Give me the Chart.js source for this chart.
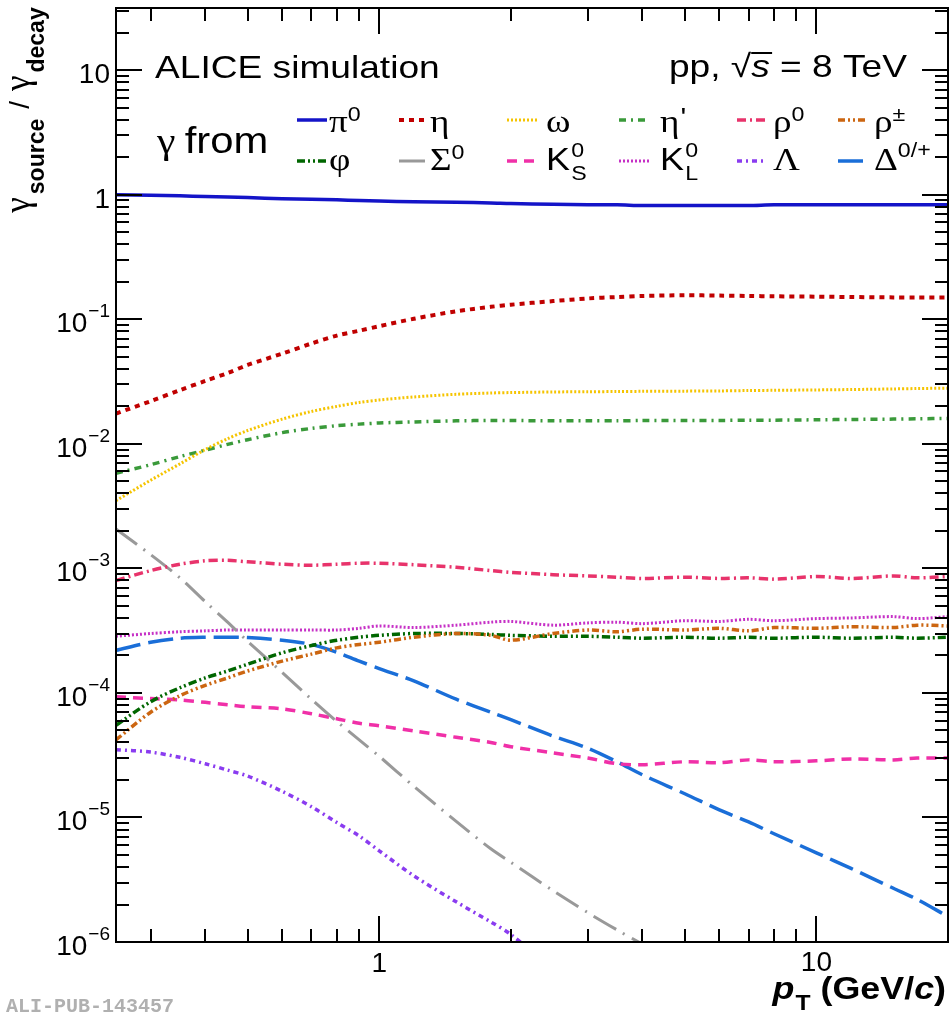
<!DOCTYPE html>
<html>
<head>
<meta charset="utf-8">
<script src="https://cdn.jsdelivr.net/npm/chart.js"></script>
<style>
  html, body { margin: 0; padding: 0; background: #fff; }
  #wrap { width: 952px; height: 1017px; }
</style>
</head>
<body>
<div id="wrap"><canvas id="ratioChart" width="952" height="1017"></canvas></div>
<script>
(function() {
  'use strict';

  // pT bin centres (GeV/c)
  var ptBins = [0.25, 0.3, 0.35, 0.4, 0.45, 0.5, 0.6, 0.7, 0.8, 0.9, 1, 1.2, 1.5, 1.8, 2, 2.5, 3, 3.5, 4, 5, 6, 7, 8, 10, 12, 15, 17, 20];

  // gamma_source / gamma_decay
  var pi0      = [1.00, 0.99, 0.98, 0.97, 0.96, 0.95, 0.93, 0.92, 0.91, 0.90, 0.89, 0.88, 0.87, 0.86, 0.85, 0.84, 0.83, 0.83, 0.82, 0.82, 0.82, 0.82, 0.83, 0.83, 0.83, 0.83, 0.83, 0.83];
  var eta      = [0.0175, 0.022, 0.027, 0.032, 0.037, 0.043, 0.053, 0.064, 0.074, 0.081, 0.088, 0.101, 0.116, 0.126, 0.131, 0.140, 0.147, 0.151, 0.154, 0.156, 0.155, 0.154, 0.153, 0.152, 0.151, 0.150, 0.150, 0.150];
  var omega    = [0.0035, 0.0051, 0.0069, 0.0090, 0.0110, 0.0128, 0.0158, 0.0182, 0.0200, 0.0215, 0.0225, 0.0238, 0.0250, 0.0256, 0.0258, 0.0261, 0.0262, 0.0263, 0.0264, 0.0265, 0.0266, 0.0268, 0.0269, 0.0271, 0.0273, 0.0276, 0.0278, 0.0280];
  var etaPrime = [0.0058, 0.0068, 0.0079, 0.0089, 0.0099, 0.0108, 0.0123, 0.0133, 0.0140, 0.0144, 0.0147, 0.0150, 0.0153, 0.0154, 0.0154, 0.0153, 0.0153, 0.0153, 0.0154, 0.0154, 0.0154, 0.0155, 0.0155, 0.0156, 0.0157, 0.0158, 0.0159, 0.0160];
  var rho0     = [8.0e-4, 9.6e-4, 1.08e-3, 1.15e-3, 1.16e-3, 1.13e-3, 1.08e-3, 1.06e-3, 1.08e-3, 1.10e-3, 1.10e-3, 1.07e-3, 1.02e-3, 9.6e-4, 9.3e-4, 8.9e-4, 8.7e-4, 8.5e-4, 8.3e-4, 8.5e-4, 8.3e-4, 8.4e-4, 8.2e-4, 8.6e-4, 8.3e-4, 8.7e-4, 8.4e-4, 8.6e-4];
  var rhoPM    = [4.2e-5, 7.0e-5, 9.5e-5, 1.15e-4, 1.32e-4, 1.5e-4, 1.8e-4, 2.05e-4, 2.3e-4, 2.45e-4, 2.55e-4, 2.8e-4, 3.0e-4, 2.9e-4, 2.65e-4, 3.0e-4, 3.2e-4, 3.1e-4, 3.25e-4, 3.2e-4, 3.3e-4, 3.15e-4, 3.35e-4, 3.3e-4, 3.4e-4, 3.35e-4, 3.5e-4, 3.45e-4];
  var phi      = [5.5e-5, 8.5e-5, 1.1e-4, 1.32e-4, 1.5e-4, 1.7e-4, 2.1e-4, 2.4e-4, 2.65e-4, 2.8e-4, 2.9e-4, 3.0e-4, 3.0e-4, 2.95e-4, 2.9e-4, 2.85e-4, 2.85e-4, 2.8e-4, 2.75e-4, 2.8e-4, 2.75e-4, 2.8e-4, 2.75e-4, 2.8e-4, 2.75e-4, 2.8e-4, 2.75e-4, 2.8e-4];
  var sigma0   = [2.07e-3, 1.29e-3, 8.4e-4, 5.4e-4, 3.7e-4, 2.6e-4, 1.46e-4, 8.9e-5, 5.9e-5, 4.2e-5, 3.1e-5, 1.78e-5, 9.3e-6, 5.6e-6, 4.36e-6, 2.58e-6, 1.72e-6, 1.25e-6, 9.6e-7, null, null, null, null, null, null, null, null, null];
  var k0s      = [9.3e-5, 9.0e-5, 8.8e-5, 8.4e-5, 8.05e-5, 7.75e-5, 7.45e-5, 6.8e-5, 6.2e-5, 5.7e-5, 5.45e-5, 4.95e-5, 4.4e-5, 4.0e-5, 3.7e-5, 3.3e-5, 3.0e-5, 2.7e-5, 2.65e-5, 2.8e-5, 2.75e-5, 2.9e-5, 2.8e-5, 2.85e-5, 2.95e-5, 2.9e-5, 3.0e-5, 3.0e-5];
  var k0l      = [2.85e-4, 3.0e-4, 3.1e-4, 3.15e-4, 3.2e-4, 3.2e-4, 3.2e-4, 3.2e-4, 3.2e-4, 3.3e-4, 3.45e-4, 3.35e-4, 3.5e-4, 3.7e-4, 3.75e-4, 3.5e-4, 3.65e-4, 3.7e-4, 3.6e-4, 3.8e-4, 3.75e-4, 3.9e-4, 3.8e-4, 3.95e-4, 4.0e-4, 4.1e-4, 3.95e-4, 4.1e-4];
  var lambda   = [3.5e-5, 3.35e-5, 3.04e-5, 2.7e-5, 2.4e-5, 2.15e-5, 1.62e-5, 1.22e-5, 9.1e-6, 7.1e-6, 5.4e-6, 3.4e-6, 2.1e-6, 1.45e-6, 1.15e-6, 6e-7, null, null, null, null, null, null, null, null, null, null, null, null];
  var delta    = [2.2e-4, 2.55e-4, 2.75e-4, 2.8e-4, 2.8e-4, 2.78e-4, 2.65e-4, 2.45e-4, 2.12e-4, 1.8e-4, 1.57e-4, 1.25e-4, 8.9e-5, 7.0e-5, 6.1e-5, 4.5e-5, 3.6e-5, 2.8e-5, 2.2e-5, 1.55e-5, 1.15e-5, 9.2e-6, 7.4e-6, 5.2e-6, 3.9e-6, 2.7e-6, 2.2e-6, 1.6e-6];

  var xRange = [0.25, 20];
  var yRange = [1e-6, 31.6];

  var SANS = '"Liberation Sans", Arial, sans-serif';
  var SERIF = '"Liberation Serif", "Times New Roman", serif';
  function f(size, fam, style) { return (style ? style + ' ' : '') + size + 'px ' + fam; }

  var G = f(32, SERIF);
  var SUP = f(20, SANS);

  // one entry per curve: data, style, legend label pieces (legend order)
  var series = [
    { data: pi0,      color: '#1414c8', width: 3.5, dash: [],                   label: [{ t: 'π', f: G }, { t: '0', f: SUP, dy: -11 }] },
    { data: eta,      color: '#c00000', width: 4,   dash: [5, 5],               label: [{ t: 'η', f: G }] },
    { data: omega,    color: '#f5c400', width: 3,   dash: [2, 2],               label: [{ t: 'ω', f: G }] },
    { data: etaPrime, color: '#3a9a3a', width: 3.5, dash: [7, 5, 2, 5],         label: [{ t: 'η', f: G }, { t: '\'', f: f(26, SANS), dy: -6, dx: 1 }] },
    { data: rho0,     color: '#e8336b', width: 3.5, dash: [9, 4, 2, 4],         label: [{ t: 'ρ', f: G }, { t: '0', f: SUP, dy: -11 }] },
    { data: rhoPM,    color: '#cc6611', width: 3.5, dash: [7, 3, 2, 3, 2, 3],   label: [{ t: 'ρ', f: G }, { t: '±', f: SUP, dy: -11 }] },
    { data: phi,      color: '#006600', width: 3.5, dash: [8, 3, 2, 3, 2, 3],   label: [{ t: 'φ', f: G }] },
    { data: sigma0,   color: '#999999', width: 3,   dash: [26, 8, 2, 8],        label: [{ t: 'Σ', f: G }, { t: '0', f: SUP, dy: -11 }] },
    { data: k0s,      color: '#f030a8', width: 3.5, dash: [10, 7],              label: [{ t: 'K', f: f(31, SANS) }, { t: '0', f: SUP, dy: -13, dx: 1, hold: true }, { t: 'S', f: SUP, dy: 10, dx: 1 }] },
    { data: k0l,      color: '#c630c6', width: 3,   dash: [2, 2],               label: [{ t: 'K', f: f(31, SANS) }, { t: '0', f: SUP, dy: -13, dx: 1, hold: true }, { t: 'L', f: SUP, dy: 10, dx: 1 }] },
    { data: lambda,   color: '#8a3cf0', width: 3.5, dash: [5, 4, 2, 4],         label: [{ t: 'Λ', f: G }] },
    { data: delta,    color: '#1a6ed8', width: 3.5, dash: [25, 8],              label: [{ t: 'Δ', f: G }, { t: '0/+', f: SUP, dy: -13 }] }
  ];

  var legendLineX = [297, 399, 507, 619, 737, 838];
  var legendTextX = [329, 430, 546, 660, 773, 874];
  var legendLineY = [120, 161];
  var legendBaseY = [132, 170];

  function points(values) {
    var out = [];
    for (var i = 0; i < ptBins.length; i++) {
      if (values[i] !== null) out.push({ x: ptBins[i], y: values[i] });
    }
    return out;
  }

  // draw a row of text pieces (sub/superscripts) starting/ending at x
  function drawParts(ctx, x, y, parts, align, sx) {
    sx = sx || 1;
    var cur = 0, w = 0;
    parts.forEach(function(p) {
      ctx.font = p.f;
      var pw = ctx.measureText(p.t).width;
      p.px = cur + (p.dx || 0);
      p.pw = pw;
      if (p.px + pw > w) w = p.px + pw;
      if (!p.hold) cur = p.px + pw;
    });
    var x0 = x;
    if (align === 'right') x0 = x - w * sx;
    if (align === 'center') x0 = x - w * sx / 2;
    ctx.save();
    ctx.translate(x0, y);
    ctx.scale(sx, 1);
    ctx.textAlign = 'left';
    ctx.textBaseline = 'alphabetic';
    parts.forEach(function(p) {
      ctx.font = p.f;
      ctx.fillText(p.t, p.px, p.dy || 0);
      if (p.over) ctx.fillRect(p.px, -p.over, p.pw + 2, 2);
    });
    ctx.restore();
  }

  var rootStyle = {
    id: 'rootStyle',
    afterDraw: function(chart) {
      var ctx = chart.ctx;
      var a = chart.chartArea;
      var xs = chart.scales.x;
      var ys = chart.scales.y;
      var e, k, v, p, len;

      ctx.save();
      ctx.strokeStyle = '#000';
      ctx.fillStyle = '#000';
      ctx.lineWidth = 2;

      // inward ticks on all four sides
      ctx.beginPath();
      for (e = -1; e <= 1; e++) {
        for (k = 1; k <= 9; k++) {
          v = k * Math.pow(10, e);
          if (v < xRange[0] * 0.999 || v > xRange[1] * 1.001) continue;
          p = Math.round(xs.getPixelForValue(v));
          len = k === 1 ? 26 : 13;
          ctx.moveTo(p, a.bottom); ctx.lineTo(p, a.bottom - len);
          ctx.moveTo(p, a.top); ctx.lineTo(p, a.top + len);
        }
      }
      for (e = -6; e <= 1; e++) {
        for (k = 1; k <= 9; k++) {
          v = k * Math.pow(10, e);
          if (v < yRange[0] * 0.999 || v > yRange[1]) continue;
          p = Math.round(ys.getPixelForValue(v));
          len = k === 1 ? 26 : 13;
          ctx.moveTo(a.left, p); ctx.lineTo(a.left + len, p);
          ctx.moveTo(a.right, p); ctx.lineTo(a.right - len, p);
        }
      }
      ctx.stroke();
      ctx.strokeRect(a.left, a.top, a.right - a.left, a.bottom - a.top);

      // y tick labels
      for (e = -6; e <= 1; e++) {
        p = ys.getPixelForValue(Math.pow(10, e));
        var lab;
        if (e === 0) lab = [{ t: '1', f: f(28, SANS) }];
        else if (e === 1) lab = [{ t: '10', f: f(28, SANS) }];
        else lab = [{ t: '10', f: f(28, SANS) }, { t: '−' + (-e), f: f(19, SANS), dy: -15, dx: 1 }];
        drawParts(ctx, 110, p + 13, lab, 'right', 1);
      }
      // x tick labels
      drawParts(ctx, xs.getPixelForValue(1), 972, [{ t: '1', f: f(28, SANS) }], 'center', 1);
      drawParts(ctx, xs.getPixelForValue(10), 971, [{ t: '10', f: f(28, SANS) }], 'center', 1);

      // x title
      drawParts(ctx, 946, 999, [
        { t: 'p', f: f(32, SANS, 'italic bold') },
        { t: 'T', f: f(22, SANS, 'bold'), dy: 11, dx: 1 },
        { t: ' (GeV/', f: f(32, SANS, 'bold') },
        { t: 'c', f: f(32, SANS, 'italic bold') },
        { t: ')', f: f(32, SANS, 'bold') }
      ], 'right', 1.12);

      // y title, rotated
      ctx.save();
      ctx.translate(0, 110);
      ctx.rotate(-Math.PI / 2);
      drawParts(ctx, 0, 29, [
        { t: 'γ', f: f(35, SERIF) },
        { t: 'source', f: f(23, SANS, 'bold'), dy: 15, dx: 3 },
        { t: '/', f: f(28, SANS), dx: 10 },
        { t: 'γ', f: f(35, SERIF), dx: 10 },
        { t: 'decay', f: f(23, SANS, 'bold'), dy: 15, dx: 3 }
      ], 'center', 1);
      ctx.restore();

      // annotations
      drawParts(ctx, 155, 78, [{ t: 'ALICE simulation', f: f(32, SANS) }], 'left', 1.16);
      drawParts(ctx, 907, 77, [
        { t: 'pp, ', f: f(32, SANS) },
        { t: '√', f: f(32, SANS) },
        { t: 's', f: f(32, SANS, 'italic'), over: 25 },
        { t: ' = 8 TeV', f: f(32, SANS) }
      ], 'right', 1.16);
      drawParts(ctx, 157, 153, [
        { t: 'γ', f: f(36, SERIF) },
        { t: 'from', f: f(36, SANS), dx: 8 }
      ], 'left', 1.16);

      // legend, 2 rows x 6 columns
      series.forEach(function(s, i) {
        var col = i % 6, row = Math.floor(i / 6);
        var ly = legendLineY[row];
        ctx.save();
        ctx.strokeStyle = s.color;
        ctx.lineWidth = s.width;
        ctx.setLineDash(s.dash);
        ctx.beginPath();
        ctx.moveTo(legendLineX[col], ly);
        ctx.lineTo(legendLineX[col] + 30, ly);
        ctx.stroke();
        ctx.restore();
        drawParts(ctx, legendTextX[col], legendBaseY[row], s.label, 'left', 1.16);
      });

      // publication id
      ctx.fillStyle = '#b0b0b0';
      drawParts(ctx, 6, 1012, [{ t: 'ALI-PUB-143457', f: f(20, '"Liberation Mono", monospace', 'bold') }], 'left', 1);
      ctx.restore();
    }
  };

  var datasets = series.map(function(s) {
    return {
      data: points(s.data),
      borderColor: s.color,
      borderWidth: s.width,
      borderDash: s.dash,
      pointRadius: 0,
      fill: false,
      tension: 0.3
    };
  });

  var ctx = document.getElementById('ratioChart');
  new Chart(ctx, {
    type: 'line',
    data: { datasets: datasets },
    options: {
      responsive: false,
      animation: false,
      events: [],
      layout: { padding: { left: 116, right: 4, top: 8, bottom: 75 } },
      plugins: { legend: { display: false }, tooltip: { enabled: false } },
      scales: {
        x: { type: 'logarithmic', min: xRange[0], max: xRange[1], display: false },
        y: { type: 'logarithmic', min: yRange[0], max: yRange[1], display: false }
      }
    },
    plugins: [rootStyle]
  });
}());
</script>
</body>
</html>
